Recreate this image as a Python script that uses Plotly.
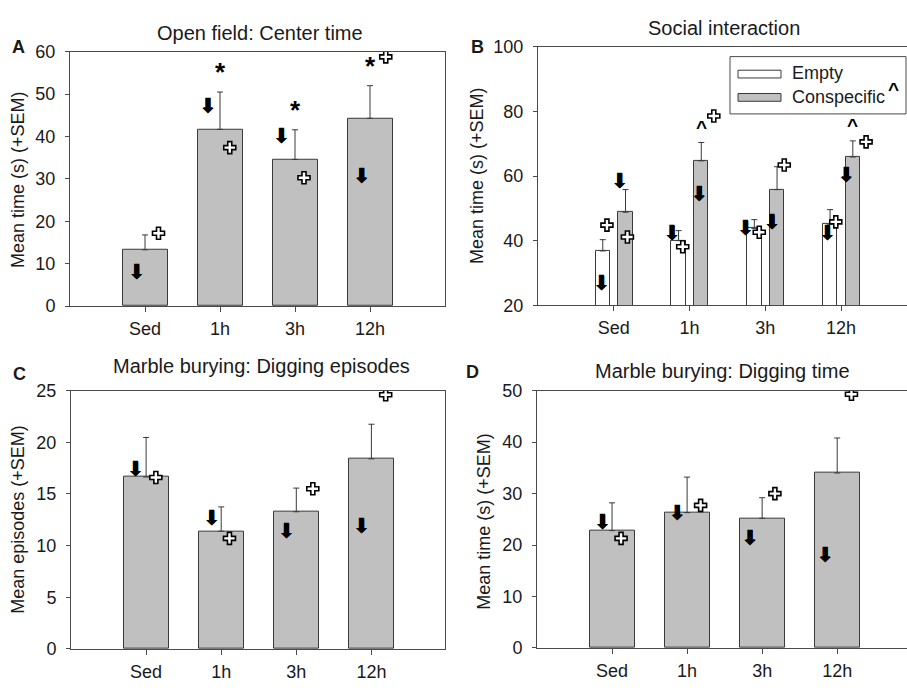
import plotly.graph_objects as go

W, H = 907, 691
groups = ["Sed", "1h", "3h", "12h"]

# Panel A - open field, centre time (s)
a_mean = [13.3, 41.7, 34.6, 44.3]
a_sem = [3.5, 8.8, 7.0, 7.7]
a_sig = ["", "*", "*", "*"]
a_down = [7.6, 46.9, 39.7, 30.3]
a_plus = [17.2, 37.4, 30.3, 58.8]

# Panel B - social interaction (s)
b_empty_mean = [36.8, 40.0, 43.8, 45.1]
b_empty_sem = [3.5, 3.1, 2.7, 4.5]
b_con_mean = [48.8, 64.7, 55.8, 65.9]
b_con_sem = [7.0, 5.7, 7.1, 5.0]
b_con_sig = ["", "^", "", "^"]
b_empty_down = [26.2, 41.8, 43.3, 41.8]
b_empty_plus = [44.8, 38.1, 42.6, 45.8]
b_con_down = [57.9, 54.0, 45.1, 59.8]
b_con_plus = [41.1, 78.6, 63.4, 70.6]

# Panel C - marble burying, digging episodes
c_mean = [16.64, 11.4, 13.28, 18.4]
c_sem = [3.83, 2.35, 2.29, 3.35]
c_down = [17.2, 12.5, 11.2, 11.7]
c_plus = [16.6, 10.7, 15.5, 24.6]

# Panel D - marble burying, digging time (s)
d_mean = [22.8, 26.3, 25.2, 34.0]
d_sem = [5.4, 6.9, 4.0, 6.8]
d_down = [24.1, 25.9, 21.1, 17.8]
d_plus = [21.3, 27.7, 30.0, 49.3]

# horizontal placement of the symbols beside each bar (category units)
DX_A_DOWN = [-0.11, -0.16, -0.18, -0.11]
DX_A_PLUS = [0.18, 0.13, 0.12, 0.21]
DX_B_EDOWN = [-0.16, -0.23, -0.26, -0.18]
DX_B_EPLUS = [-0.09, -0.09, -0.08, -0.07]
DX_B_CDOWN = [0.08, 0.13, 0.09, 0.07]
DX_B_CPLUS = [0.18, 0.32, 0.25, 0.33]
DX_C_DOWN = [-0.14, -0.125, -0.13, -0.13]
DX_C_PLUS = [0.13, 0.11, 0.22, 0.19]
DX_D_DOWN = [-0.125, -0.13, -0.16, -0.16]
DX_D_PLUS = [0.12, 0.18, 0.17, 0.19]

FONT = "Liberation Sans, Arial, sans-serif"
TXT = "#1a1a1a"
GRAY = "#c0c0c0"
EDGE = "#3a3a3a"
AXIS = "#4a4a4a"
xs = list(range(len(groups)))


def px(x):
    return x / W


def py(y):
    return 1 - y / H


fig = go.Figure()


def err(sem):
    return dict(type="data", symmetric=False, array=sem, arrayminus=[0] * len(sem),
                color=EDGE, thickness=1, width=3)


def bars(mean, sem, ax, fill, dx=0.0, width=0.6, name=None):
    fig.add_trace(go.Bar(
        x=[i + dx for i in xs], y=mean, width=width, error_y=err(sem),
        marker=dict(color=fill, line=dict(color=EDGE, width=1)),
        xaxis=ax[0], yaxis=ax[1], showlegend=False, name=name))


def arrows(yv, dx, ax):
    # outlined block arrow: heavy white-arrow glyph over a solid one
    xv = [i + d for i, d in zip(xs, dx)]
    for glyph, size in (("⬇", 21), ("⇩", 19)):
        fig.add_trace(go.Scatter(
            x=xv, y=yv, mode="text", text=[glyph] * len(yv),
            textposition="middle center",
            textfont=dict(family="DejaVu Sans", size=size, color="#000", weight="bold"),
            xaxis=ax[0], yaxis=ax[1], showlegend=False, hoverinfo="skip"))


def crosses(yv, dx, ax):
    fig.add_trace(go.Scatter(
        x=[i + d for i, d in zip(xs, dx)], y=yv, mode="markers",
        marker=dict(symbol="cross", size=10, color="white", line=dict(color="#000", width=1.6)),
        xaxis=ax[0], yaxis=ax[1], showlegend=False, hoverinfo="skip"))


# Panel A
bars(a_mean, a_sem, ("x", "y"), GRAY)
arrows(a_down, DX_A_DOWN, ("x", "y"))
crosses(a_plus, DX_A_PLUS, ("x", "y"))

# Panel B
bars(b_empty_mean, b_empty_sem, ("x2", "y2"), "white", dx=-0.145, width=0.19, name="Empty")
bars(b_con_mean, b_con_sem, ("x2", "y2"), GRAY, dx=0.155, width=0.19, name="Conspecific")
arrows(b_empty_down, DX_B_EDOWN, ("x2", "y2"))
crosses(b_empty_plus, DX_B_EPLUS, ("x2", "y2"))
arrows(b_con_down, DX_B_CDOWN, ("x2", "y2"))
crosses(b_con_plus, DX_B_CPLUS, ("x2", "y2"))

# Panel C
bars(c_mean, c_sem, ("x3", "y3"), GRAY)
arrows(c_down, DX_C_DOWN, ("x3", "y3"))
crosses(c_plus, DX_C_PLUS, ("x3", "y3"))

# Panel D
bars(d_mean, d_sem, ("x4", "y4"), GRAY)
arrows(d_down, DX_D_DOWN, ("x4", "y4"))
crosses(d_plus, DX_D_PLUS, ("x4", "y4"))


def xax(dom, rng):
    return dict(domain=dom, range=rng, tickvals=xs, ticktext=groups, ticks="outside",
                ticklen=5, tickcolor=AXIS, showline=True, linecolor=AXIS, linewidth=1,
                mirror=True, showgrid=False, zeroline=False, fixedrange=True,
                ticklabelstandoff=1, tickfont=dict(family=FONT, size=18, color=TXT))


def yax(dom, rng, dtick, anchor, mirror):
    return dict(domain=dom, range=rng, dtick=dtick, ticks="outside", ticklen=4,
                tickcolor=AXIS, showline=True, linecolor=AXIS, linewidth=1,
                mirror=mirror, showgrid=False, zeroline=False, anchor=anchor,
                ticklabelstandoff=6, tickfont=dict(family=FONT, size=18, color=TXT))


ann = []


def label(x, y, text, size, bold=False, angle=0):
    ann.append(dict(xref="paper", yref="paper", x=px(x), y=py(y), text=f"<b>{text}</b>" if bold else text,
                    showarrow=False, xanchor="center", yanchor="middle", textangle=angle,
                    font=dict(family=FONT, size=size, color=TXT)))


def sig(marks, mean, sem, ax, dx, size, shift):
    for i, m in enumerate(marks):
        if m:
            ann.append(dict(xref=ax[0], yref=ax[1], x=i + dx, y=mean[i] + sem[i], text=f"<b>{m}</b>",
                            showarrow=False, xanchor="center", yanchor="middle", yshift=shift,
                            font=dict(family=FONT, size=size, color="#000")))


sig(a_sig, a_mean, a_sem, ("x", "y"), 0.0, 26, 20)
sig(b_con_sig, b_con_mean, b_con_sem, ("x2", "y2"), 0.155, 19, 15)

# panel titles, letters and axis titles
label(260, 24, "Open field: Center time", 20)
label(724, 19, "Social interaction", 20)
label(261, 367, "Marble burying: Digging episodes", 20)
label(722, 372, "Marble burying: Digging time", 20)
label(18, 38, "A", 18, bold=True)
label(477, 38, "B", 18, bold=True)
label(19, 375, "C", 18, bold=True)
label(473, 373, "D", 18, bold=True)
label(18, 175, "Mean time (s) (+SEM)", 18, angle=-90)
label(477, 171, "Mean time (s) (+SEM)", 18, angle=-90)
label(18, 525, "Mean episodes (+SEM)", 18, angle=-90)
label(484, 527, "Mean time (s) (+SEM)", 18, angle=-90)

# legend for panel B
shapes = [
    dict(type="rect", xref="paper", yref="paper", x0=px(730), x1=px(906), y0=py(107), y1=py(48),
         line=dict(color=AXIS, width=1), fillcolor="white", layer="above"),
    dict(type="rect", xref="paper", yref="paper", x0=px(738), x1=px(781), y0=py(70), y1=py(62),
         line=dict(color=EDGE, width=1), fillcolor="white", layer="above"),
    dict(type="rect", xref="paper", yref="paper", x0=px(738), x1=px(781), y0=py(94), y1=py(86),
         line=dict(color=EDGE, width=1), fillcolor=GRAY, layer="above"),
]
for yy, t in ((65, "Empty"), (90, "Conspecific")):
    ann.append(dict(xref="paper", yref="paper", x=px(790), y=py(yy), text=t, showarrow=False,
                    xanchor="left", yanchor="middle", font=dict(family=FONT, size=18, color=TXT)))
ann.append(dict(xref="paper", yref="paper", x=px(893), y=py(82), text="<b>^</b>", showarrow=False,
                xanchor="center", yanchor="middle", font=dict(family=FONT, size=19, color="#000")))

fig.update_layout(
    width=W, height=H, margin=dict(l=0, r=0, t=0, b=0),
    paper_bgcolor="white", plot_bgcolor="white", barmode="overlay", bargap=0,
    showlegend=False,
    xaxis=xax([px(70), px(445)], [-1.0, 4.0]),
    yaxis=yax([py(305), py(43)], [0, 60], 10, "x", True),
    xaxis2=xax([px(538), 1.0], [-1.0, 3.87]),
    yaxis2=yax([py(304), py(38)], [20, 100], 20, "x2", False),
    xaxis3=xax([px(71), px(445)], [-1.0, 3.98]),
    yaxis3=yax([py(658), py(392)], [0, 25], 5, "x3", True),
    xaxis4=xax([px(537), 1.0], [-1.0, 3.93]),
    yaxis4=yax([py(657), py(392)], [0, 50], 10, "x4", False),
    annotations=ann, shapes=shapes,
)
fig.update_layout(xaxis2=dict(anchor="y2"), xaxis3=dict(anchor="y3"), xaxis4=dict(anchor="y4"))

fig.write_html("out.html")
